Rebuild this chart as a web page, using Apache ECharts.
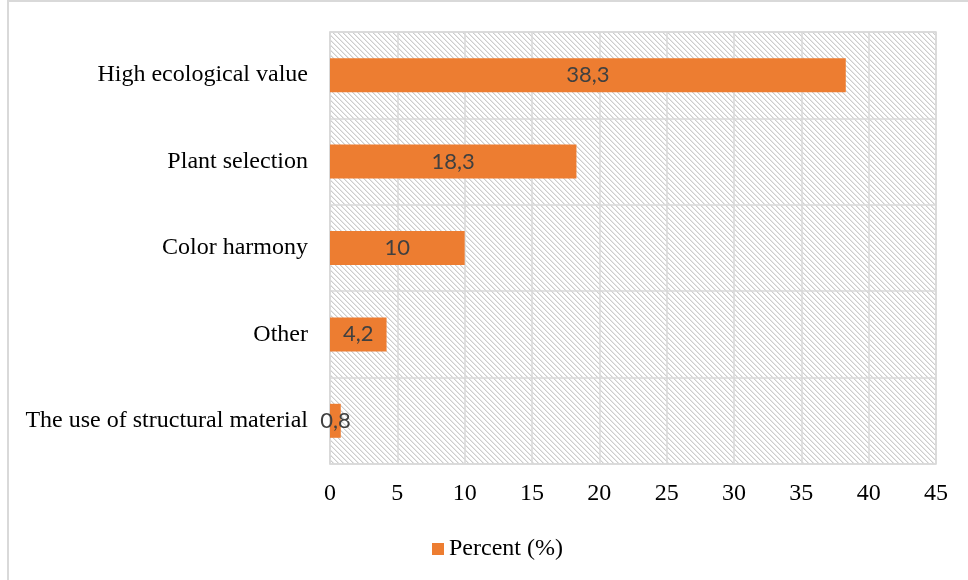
<!DOCTYPE html>
<html>
<head>
<meta charset="utf-8">
<script src="https://cdn.jsdelivr.net/npm/echarts@6/dist/echarts.min.js"></script>
<style>
  html, body { margin: 0; padding: 0; background: #fff; }
  #chart { width: 968px; height: 580px; }
</style>
</head>
<body>
<div id="chart"></div>
<script>
// data, top to bottom as shown
const categories = [
  'High ecological value',
  'Plant selection',
  'Color harmony',
  'Other',
  'The use of structural material'
];
const percentValues = [38.3, 18.3, 10, 4.2, 0.8];
const xTicks = [0, 5, 10, 15, 20, 25, 30, 35, 40, 45];
const seriesName = 'Percent (%)';

// diagonal hatch tile for the plot background
function hatchTile() {
  const size = 5;
  const c = document.createElement('canvas');
  c.width = size;
  c.height = size;
  const ctx = c.getContext('2d');
  ctx.fillStyle = '#ffffff';
  ctx.fillRect(0, 0, size, size);
  for (let y = 0; y < size; y++) {
    for (let x = 0; x < size; x++) {
      const d = ((x - y) % size + size) % size;
      if (d === 0) { ctx.fillStyle = '#cdcdcd'; ctx.fillRect(x, y, 1, 1); }
      if (d === 1) { ctx.fillStyle = '#e8e8e8'; ctx.fillRect(x, y, 1, 1); }
    }
  }
  return c;
}

const chart = echarts.init(document.getElementById('chart'));

const serif = '"Liberation Serif", "Times New Roman", serif';

const option = {
  backgroundColor: '#ffffff',
  animation: false,
  graphic: [{
    type: 'rect',
    shape: { x: 8, y: 1, width: 1000, height: 1000 },
    style: { fill: 'none', stroke: '#d9d9d9', lineWidth: 2 },
    silent: true
  }],
  grid: {
    left: 330,
    right: 32,
    top: 32,
    bottom: 116,
    show: true,
    backgroundColor: { image: hatchTile(), repeat: 'repeat' },
    borderColor: '#d9d9d9',
    borderWidth: 1.5
  },
  legend: {
    data: [seriesName],
    left: 427,
    top: 532,
    icon: 'rect',
    itemWidth: 12,
    itemHeight: 12,
    itemGap: 5,
    textStyle: { fontFamily: serif, fontSize: 24, color: '#000' }
  },
  xAxis: {
    type: 'value',
    min: xTicks[0],
    max: xTicks[xTicks.length - 1],
    interval: 5,
    axisLine: { show: false },
    axisTick: { show: false },
    axisLabel: { fontFamily: serif, fontSize: 24, color: '#000', margin: 18 },
    splitLine: { show: true, lineStyle: { color: '#d9d9d9', width: 1.5 } }
  },
  yAxis: {
    type: 'category',
    data: categories,
    inverse: true,
    axisLine: { show: true, lineStyle: { color: '#d9d9d9', width: 1.5 } },
    axisTick: { show: false },
    axisLabel: { fontFamily: serif, fontSize: 24, color: '#000', margin: 22 },
    splitLine: { show: true, lineStyle: { color: '#d9d9d9', width: 1.5 } }
  },
  series: [{
    name: seriesName,
    type: 'bar',
    data: percentValues,
    barWidth: 34,
    itemStyle: { color: '#ed7d31' },
    label: {
      show: true,
      position: 'inside',
      fontFamily: 'Lato, "Open Sans", sans-serif',
      fontSize: 22,
      color: '#404040',
      formatter: p => String(p.value).replace('.', ',')
    }
  }]
};

chart.setOption(option);
</script>
</body>
</html>
